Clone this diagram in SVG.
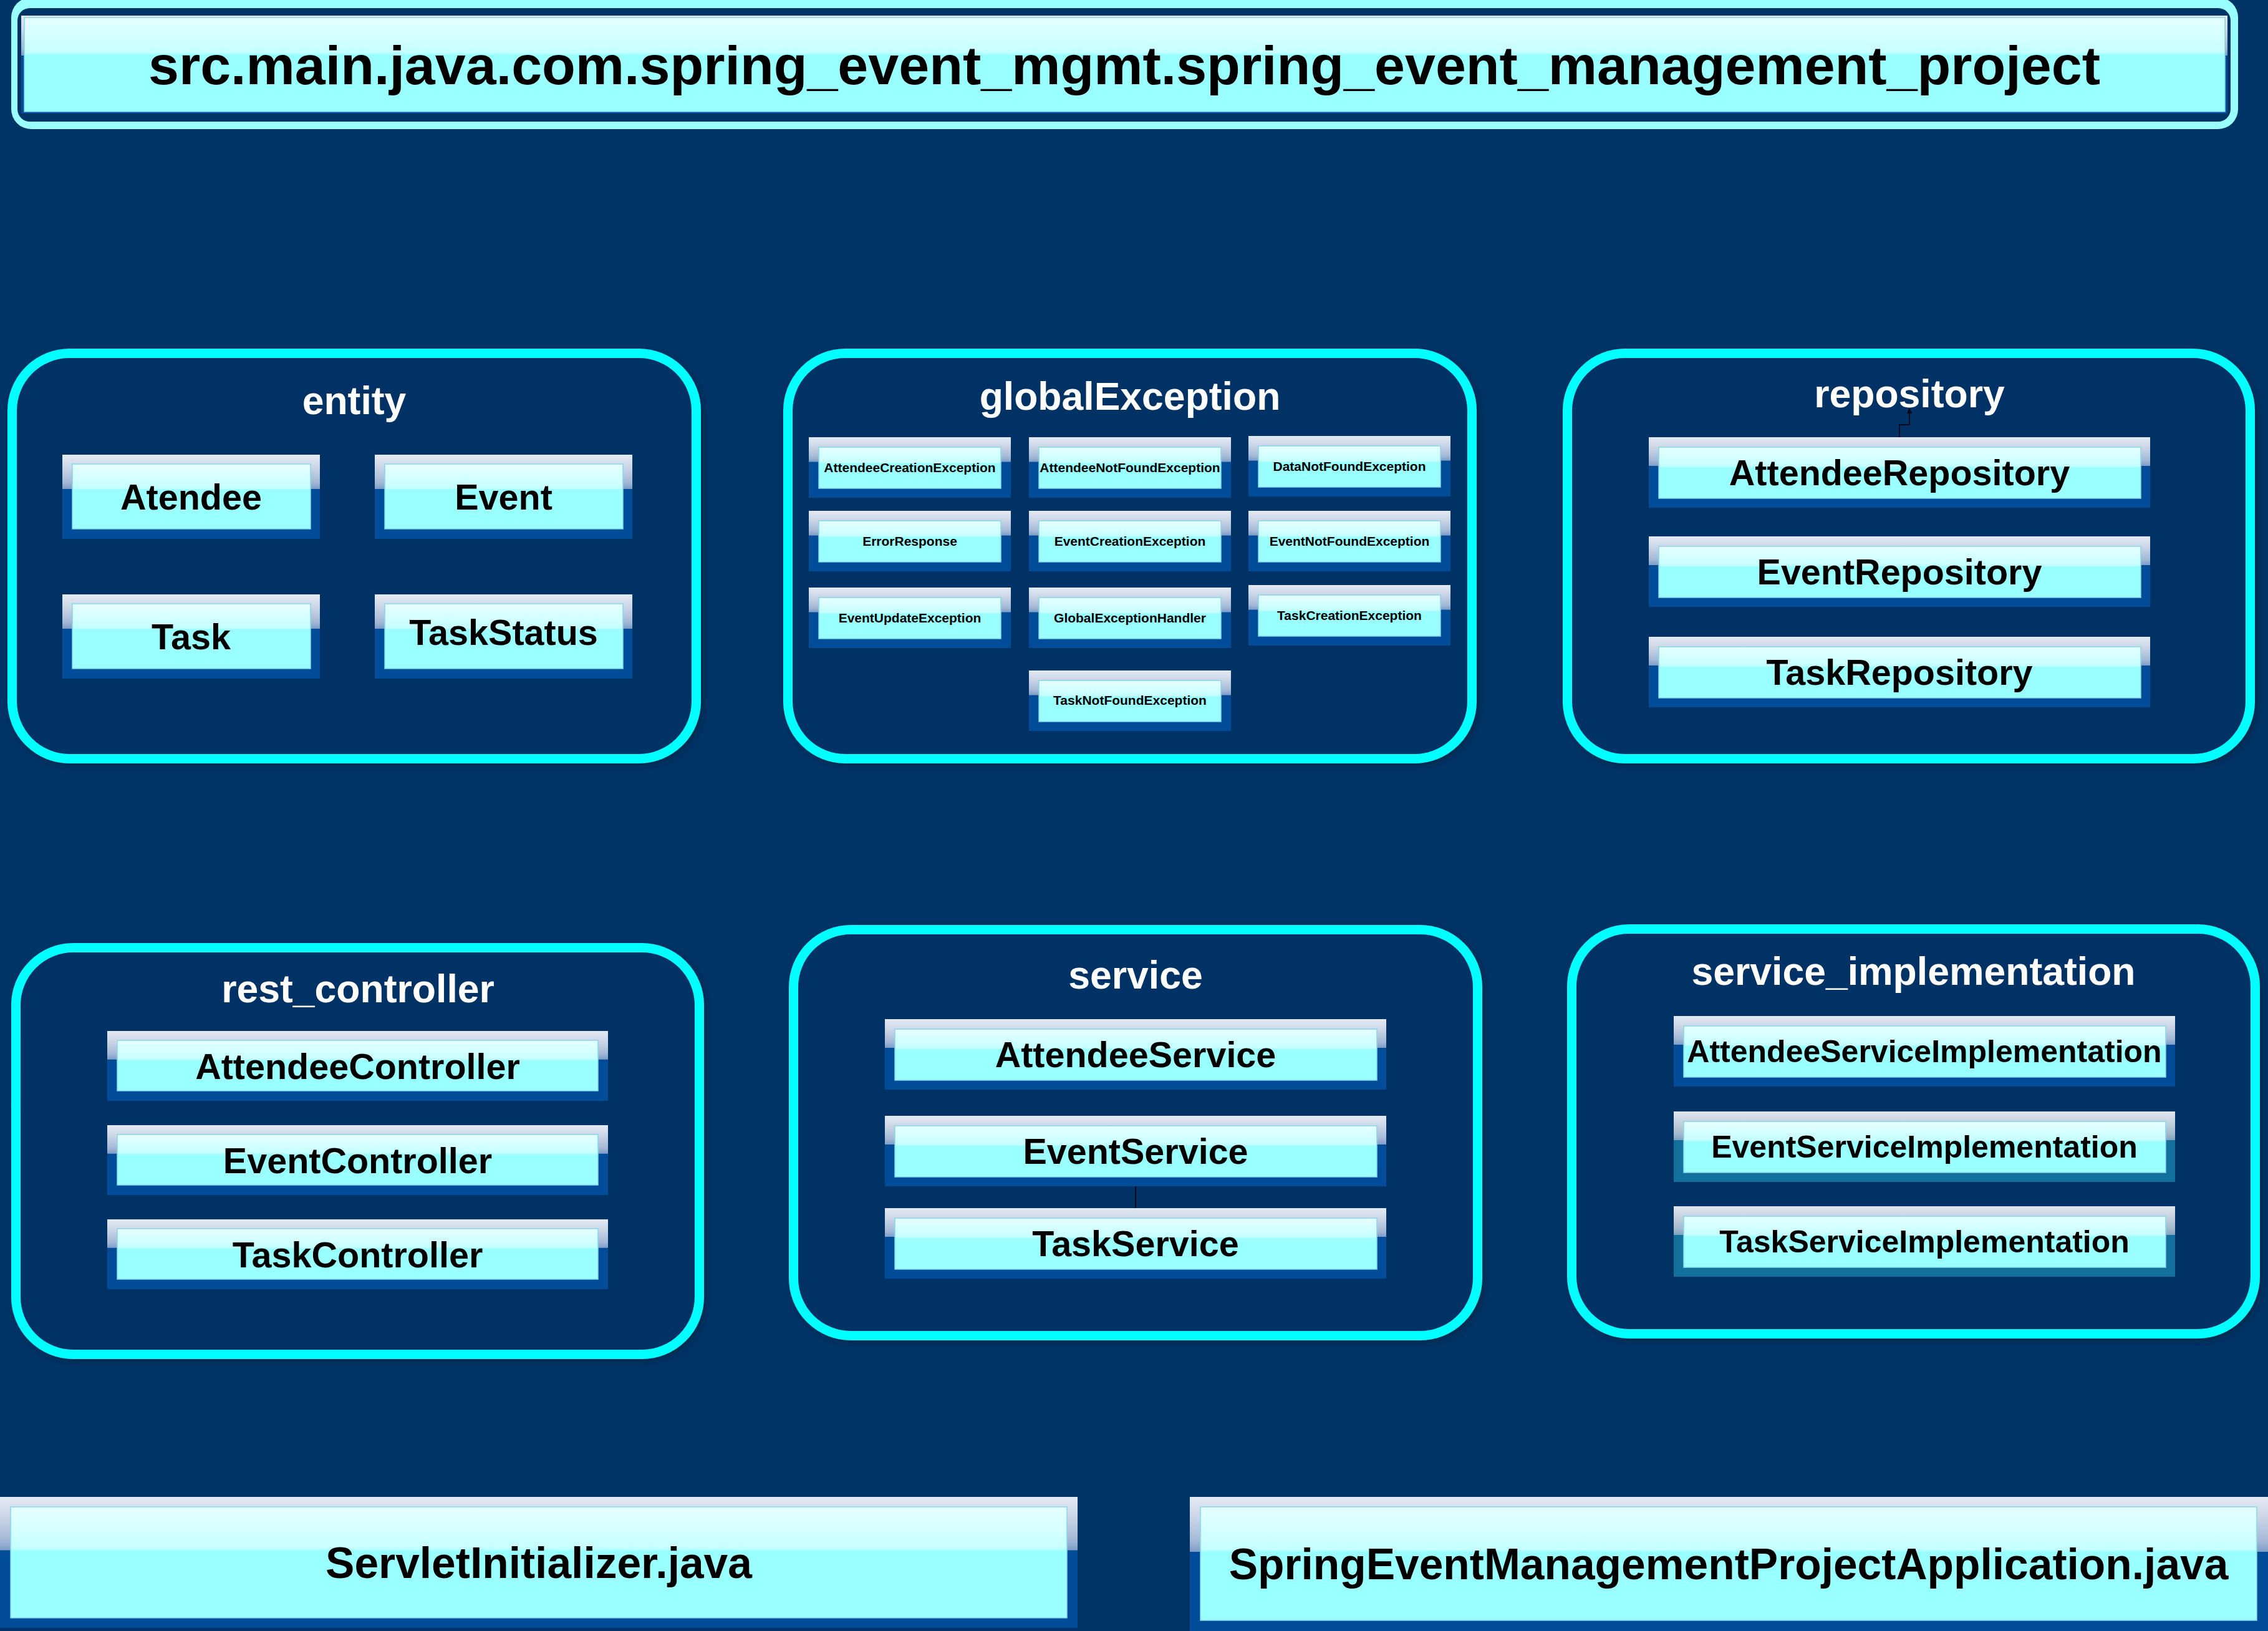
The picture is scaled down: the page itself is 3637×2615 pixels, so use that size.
<svg xmlns="http://www.w3.org/2000/svg" width="3637" height="2615" viewBox="0 0 3637 2615">
<defs>
<linearGradient id="og" x1="0" y1="0" x2="0" y2="1">
<stop offset="0" stop-color="#e4eaf3"/><stop offset="0.15" stop-color="#cbd6e7"/><stop offset="0.33" stop-color="#a3b8d6"/><stop offset="0.405" stop-color="#7e9dc8"/><stop offset="0.41" stop-color="#004c99"/><stop offset="1" stop-color="#004c99"/>
</linearGradient>
<linearGradient id="og2" x1="0" y1="0" x2="0" y2="1">
<stop offset="0" stop-color="#dfe6ed"/><stop offset="0.15" stop-color="#c6d3df"/><stop offset="0.33" stop-color="#9fb8cc"/><stop offset="0.405" stop-color="#7fa3bf"/><stop offset="0.41" stop-color="#136f9c"/><stop offset="1" stop-color="#136f9c"/>
</linearGradient>
<linearGradient id="ig" x1="0" y1="0" x2="0" y2="1">
<stop offset="0" stop-color="#e6ffff"/><stop offset="0.37" stop-color="#c6ffff"/><stop offset="0.4" stop-color="#99ffff"/><stop offset="1" stop-color="#99ffff"/>
</linearGradient>
<filter id="sh" x="-5%" y="-5%" width="110%" height="110%">
<feDropShadow dx="4" dy="4" stdDeviation="4" flood-color="#001a33" flood-opacity="0.5"/>
</filter>
<marker id="arr" viewBox="0 0 10 10" refX="10" refY="5" markerWidth="9" markerHeight="9" markerUnits="userSpaceOnUse" orient="auto">
<path d="M0,0 L10,5 L0,10 z" fill="#0a0a1a"/>
</marker>
<style>
.cont{fill:#003366;stroke:#00ffff;stroke-width:15;filter:url(#sh)}
.ct{font-family:"Liberation Sans",Arial,sans-serif;font-weight:bold;font-size:62.5px;fill:#ffffff;text-anchor:middle}
.bo{fill:url(#og)}
.bo2{fill:url(#og2)}
.bi{fill:url(#ig);stroke:#86d6ea;stroke-width:1.5}
.t{font-family:"Liberation Sans",Arial,sans-serif;font-weight:bold;fill:#000000;text-anchor:middle}
.f57{font-size:57.5px}
.f50{font-size:50px}
.f21{font-size:21px}
.f70{font-size:69.5px}
.f88{font-size:88px}
</style>
</defs>
<rect x="0" y="0" width="3637" height="2615" fill="#003366"/>

<g id="title">
<rect x="18" y="-4" width="3571" height="211" rx="32" fill="#99ffff"/>
<rect x="28" y="13" width="3549" height="182" rx="20" fill="#003366"/>
<rect class="bo" x="34" y="25" width="3538" height="157"/>
<rect class="bi" x="39" y="28" width="3529" height="151"/>
<text class="t f88" x="1803" y="135">src.main.java.com.spring_event_mgmt.spring_event_management_project</text>
</g>

<g id="entity">
<rect class="cont" x="19.5" y="566.5" width="1097" height="650" rx="92"/>
<text class="ct" x="568" y="664">entity</text>
<g id="n-atendee"><rect class="bo" x="100" y="729" width="413" height="135"/><rect class="bi" x="116" y="744" width="382" height="104"/><text class="t f57" x="306.5" y="817">Atendee</text></g>
<g id="n-event"><rect class="bo" x="601" y="729" width="413" height="135"/><rect class="bi" x="617" y="744" width="382" height="104"/><text class="t f57" x="807.5" y="817">Event</text></g>
<g id="n-task"><rect class="bo" x="100" y="953" width="413" height="135"/><rect class="bi" x="116" y="968" width="382" height="104"/><text class="t f57" x="306.5" y="1041">Task</text></g>
<g id="n-taskstatus"><rect class="bo" x="601" y="953" width="413" height="135"/><rect class="bi" x="617" y="968" width="382" height="104"/><text class="t f57" x="807.5" y="1034">TaskStatus</text></g>
</g>

<g id="globalException">
<rect class="cont" x="1263.5" y="566.5" width="1097" height="650" rx="92"/>
<text class="ct" x="1812" y="657">globalException</text>
<g id="n-attendeecreationexception"><rect class="bo" x="1297" y="701" width="324" height="97"/><rect class="bi" x="1313" y="717" width="292" height="66"/><text class="t f21" x="1459" y="757">AttendeeCreationException</text></g>
<g id="n-attendeenotfoundexception"><rect class="bo" x="1650" y="701" width="324" height="97"/><rect class="bi" x="1666" y="717" width="292" height="66"/><text class="t f21" x="1812" y="757">AttendeeNotFoundException</text></g>
<g id="n-datanotfoundexception"><rect class="bo" x="2002" y="699" width="324" height="97"/><rect class="bi" x="2018" y="715" width="292" height="66"/><text class="t f21" x="2164" y="755">DataNotFoundException</text></g>
<g id="n-errorresponse"><rect class="bo" x="1297" y="819" width="324" height="97"/><rect class="bi" x="1313" y="835" width="292" height="66"/><text class="t f21" x="1459" y="875">ErrorResponse</text></g>
<g id="n-eventcreationexception"><rect class="bo" x="1650" y="819" width="324" height="97"/><rect class="bi" x="1666" y="835" width="292" height="66"/><text class="t f21" x="1812" y="875">EventCreationException</text></g>
<g id="n-eventnotfoundexception"><rect class="bo" x="2002" y="819" width="324" height="97"/><rect class="bi" x="2018" y="835" width="292" height="66"/><text class="t f21" x="2164" y="875">EventNotFoundException</text></g>
<g id="n-eventupdateexception"><rect class="bo" x="1297" y="942" width="324" height="97"/><rect class="bi" x="1313" y="958" width="292" height="66"/><text class="t f21" x="1459" y="998">EventUpdateException</text></g>
<g id="n-globalexceptionhandler"><rect class="bo" x="1650" y="942" width="324" height="97"/><rect class="bi" x="1666" y="958" width="292" height="66"/><text class="t f21" x="1812" y="998">GlobalExceptionHandler</text></g>
<g id="n-taskcreationexception"><rect class="bo" x="2002" y="938" width="324" height="97"/><rect class="bi" x="2018" y="954" width="292" height="66"/><text class="t f21" x="2164" y="994">TaskCreationException</text></g>
<g id="n-tasknotfoundexception"><rect class="bo" x="1650" y="1075" width="324" height="97"/><rect class="bi" x="1666" y="1091" width="292" height="66"/><text class="t f21" x="1812" y="1130">TaskNotFoundException</text></g>
</g>

<g id="repository">
<rect class="cont" x="2513.5" y="566.5" width="1095" height="650" rx="92"/>
<text class="ct" x="3062" y="653">repository</text>
<g id="n-attendeerepository"><rect class="bo" x="2644" y="701" width="804" height="113"/><rect class="bi" x="2660" y="717" width="773" height="82"/><text class="t f57" x="3046" y="778">AttendeeRepository</text></g>
<g id="n-eventrepository"><rect class="bo" x="2644" y="860" width="804" height="113"/><rect class="bi" x="2660" y="876" width="773" height="82"/><text class="t f57" x="3046" y="937">EventRepository</text></g>
<g id="n-taskrepository"><rect class="bo" x="2644" y="1021" width="804" height="113"/><rect class="bi" x="2660" y="1037" width="773" height="82"/><text class="t f57" x="3046" y="1098">TaskRepository</text></g>
</g>

<g id="rest_controller">
<rect class="cont" x="25.5" y="1519.5" width="1096" height="652" rx="92"/>
<text class="ct" x="574" y="1607">rest_controller</text>
<g id="n-attendeecontroller"><rect class="bo" x="172" y="1653" width="803" height="112"/><rect class="bi" x="188" y="1668" width="771" height="81"/><text class="t f57" x="573.5" y="1730">AttendeeController</text></g>
<g id="n-eventcontroller"><rect class="bo" x="172" y="1804" width="803" height="112"/><rect class="bi" x="188" y="1819" width="771" height="81"/><text class="t f57" x="573.5" y="1881">EventController</text></g>
<g id="n-taskcontroller"><rect class="bo" x="172" y="1955" width="803" height="112"/><rect class="bi" x="188" y="1970" width="771" height="81"/><text class="t f57" x="573.5" y="2032">TaskController</text></g>
</g>

<g id="service">
<rect class="cont" x="1272.5" y="1490.5" width="1097" height="651" rx="92"/>
<text class="ct" x="1821" y="1585">service</text>
<g id="n-attendeeservice"><rect class="bo" x="1419" y="1634" width="804" height="113"/><rect class="bi" x="1435" y="1650" width="773" height="82"/><text class="t f57" x="1821" y="1711">AttendeeService</text></g>
<g id="n-eventservice"><rect class="bo" x="1419" y="1789" width="804" height="113"/><rect class="bi" x="1435" y="1805" width="773" height="82"/><text class="t f57" x="1821" y="1866">EventService</text></g>
<g id="n-taskservice"><rect class="bo" x="1419" y="1937" width="804" height="113"/><rect class="bi" x="1435" y="1953" width="773" height="82"/><text class="t f57" x="1821" y="2014">TaskService</text></g>
</g>

<g id="service_implementation">
<rect class="cont" x="2520.5" y="1489.5" width="1096" height="649" rx="92"/>
<text class="ct" x="3068.5" y="1579">service_implementation</text>
<g id="n-attendeeserviceimplementation"><rect class="bo" x="2684" y="1629" width="804" height="113"/><rect class="bi" x="2700" y="1645" width="773" height="82"/><text class="t f50" x="3086" y="1703">AttendeeServiceImplementation</text></g>
<g id="n-eventserviceimplementation"><rect class="bo2" x="2684" y="1782" width="804" height="113"/><rect class="bi" x="2700" y="1798" width="773" height="82"/><text class="t f50" x="3086" y="1856">EventServiceImplementation</text></g>
<g id="n-taskserviceimplementation"><rect class="bo2" x="2684" y="1934" width="804" height="113"/><rect class="bi" x="2700" y="1950" width="773" height="82"/><text class="t f50" x="3086" y="2008">TaskServiceImplementation</text></g>
</g>

<g id="n-servletinitializer">
<rect class="bo" x="0" y="2400" width="1728" height="210"/><rect class="bi" x="17" y="2416" width="1694" height="178"/>
<text class="t f70" x="864" y="2530">ServletInitializer.java</text>
</g>
<g id="n-springeventmanagementprojectapplication">
<rect class="bo" x="1908" y="2400" width="1729" height="216"/><rect class="bi" x="1925" y="2416" width="1694" height="182"/>
<text class="t f70" x="2772" y="2532">SpringEventManagementProjectApplication.java</text>
</g>

<g id="connectors" fill="none" stroke="#0a0a1a" stroke-width="2">
<path d="M3046,701 V681 H3062 V654" marker-end="url(#arr)"/>
<path d="M1821,1902 V1937"/>
</g>
</svg>
